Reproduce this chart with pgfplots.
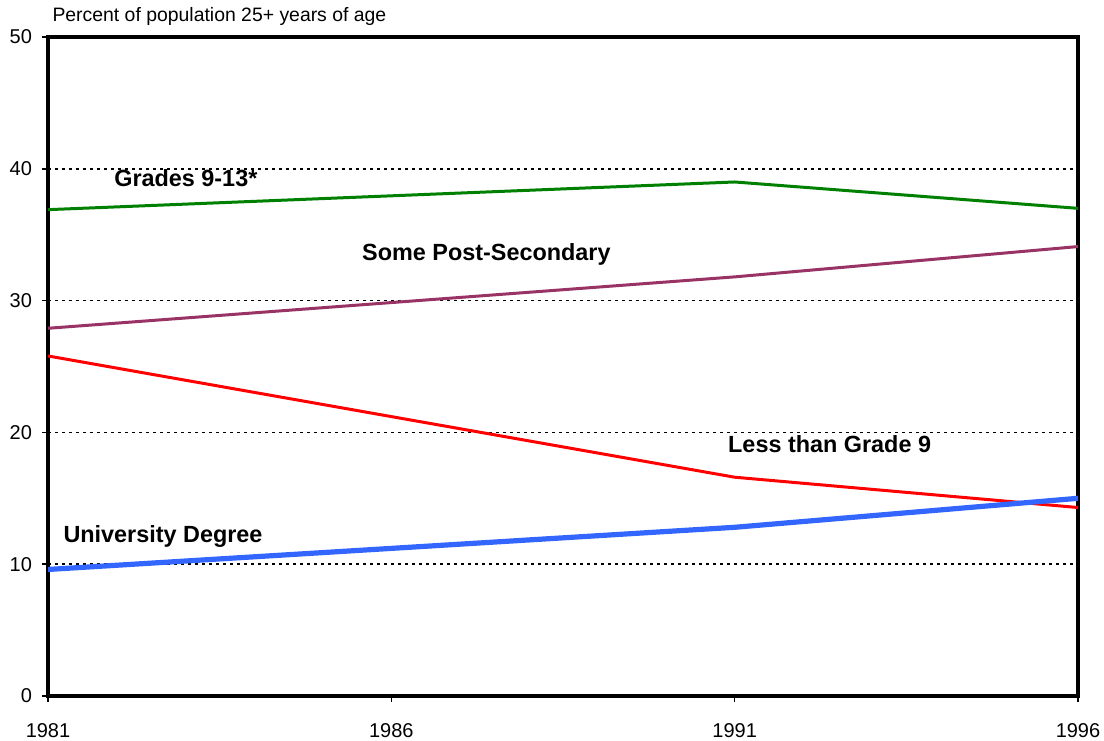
\documentclass[border=0pt]{standalone}
\usepackage{pgfplots}
\pgfplotsset{compat=1.18}
\usepackage{fontspec}
\setmainfont{Liberation Sans}
\definecolor{cgreen}{RGB}{0,128,0}
\definecolor{cpurple}{RGB}{153,51,102}
\definecolor{cred}{RGB}{255,0,0}
\definecolor{cblue}{RGB}{51,102,255}
\begin{document}
\begin{tikzpicture}
\path[use as bounding box] (0,0) rectangle (552pt,370pt);
\begin{axis}[
  at={(24pt,22pt)}, anchor=south west,
  scale only axis, width=515pt, height=329.5pt,
  xmin=1981, xmax=1996, ymin=0, ymax=50,
  xtick={1981,1986,1991,1996},
  xticklabels={1981,1986,1991,1996},
  ytick={0,10,20,30,40,50},
  tick pos=left, tick align=outside,
  major tick length=3pt,
  tick style={black, line width=0.8pt},
  axis line style={black, line width=2pt},
  ymajorgrids,
  grid style={black, line width=0.8pt, dash pattern=on 1.5pt off 2pt},
  ticklabel style={font=\fontsize{10}{12}\selectfont},
  /pgf/number format/assume math mode=true,
  /pgf/number format/1000 sep={},
  yticklabel style={xshift=-1.5pt},
  xticklabel style={yshift=-7pt},
  clip=false,
]
\addplot[cgreen, line width=1.5pt] coordinates {(1981,36.9) (1991,39.0) (1996,37.0)};
\addplot[cpurple, line width=1.5pt] coordinates {(1981,27.9) (1991,31.8) (1996,34.1)};
\addplot[cred, line width=1.5pt] coordinates {(1981,25.8) (1991,16.6) (1996,14.3)};
\addplot[cblue, line width=2.6pt] coordinates {(1981,9.6) (1991,12.8) (1996,15.0)};
\node[anchor=west, inner sep=0, font=\fontsize{9.7}{11}\selectfont] at (rel axis cs:0.004,1) [yshift=10.5pt] {Percent of population 25+ years of age};
\begin{scope}[every node/.style={anchor=west, inner sep=0, font=\fontsize{11.7}{13}\selectfont\bfseries}]
\node at (axis cs:1981.96,39.3) {Grades 9-13*};
\node at (axis cs:1985.57,33.5) {Some Post-Secondary};
\node at (axis cs:1990.90,19.1) {Less than Grade 9};
\node at (axis cs:1981.22,12.1) {University Degree};
\end{scope}
\end{axis}
\end{tikzpicture}
\end{document}
